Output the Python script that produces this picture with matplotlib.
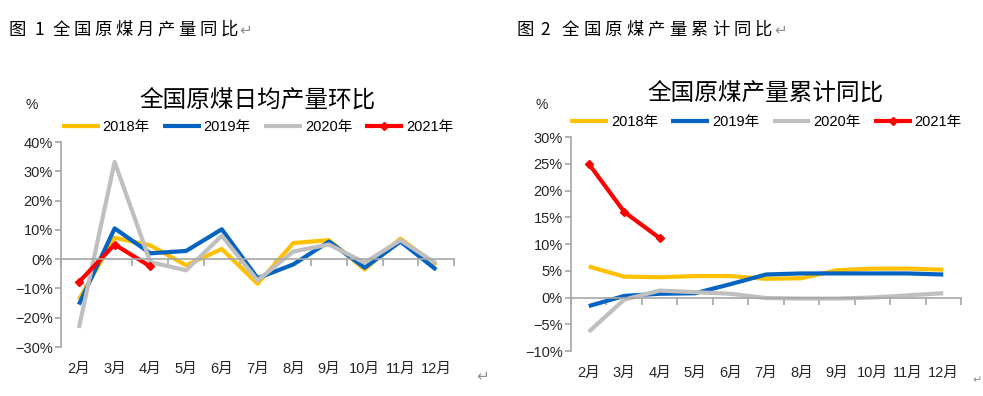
import matplotlib
matplotlib.use("Agg")
import matplotlib.pyplot as plt
from matplotlib.ticker import FuncFormatter, FixedLocator

plt.rcParams['font.family'] = ['Liberation Sans', 'Noto Sans CJK SC', 'DejaVu Sans']

months = ['2月', '3月', '4月', '5月', '6月', '7月', '8月', '9月', '10月', '11月', '12月']
years = ['2018年', '2019年', '2020年', '2021年']
colors = ['#FFC000', '#0563C1', '#BFBFBF', '#FF0000']

# 全国原煤日均产量环比 (%)
mom_2018 = [-13.8, 7.3, 4.7, -2.1, 3.5, -8.4, 5.5, 6.5, -3.5, 7.0, -2.0]
mom_2019 = [-15.5, 10.5, 2.0, 2.8, 10.2, -6.5, -1.8, 6.0, -2.9, 6.0, -3.6]
mom_2020 = [-23.5, 33.2, -1.0, -3.8, 8.0, -7.3, 2.6, 5.0, -1.2, 6.5, -1.5]
mom_2021 = [-7.8, 5.0, -2.5]

# 全国原煤产量累计同比 (%)
cum_2018 = [5.8, 3.9, 3.8, 4.0, 4.0, 3.5, 3.6, 5.1, 5.4, 5.4, 5.2]
cum_2019 = [-1.6, 0.3, 0.7, 0.8, 2.5, 4.3, 4.5, 4.5, 4.5, 4.5, 4.3]
cum_2020 = [-6.4, -0.4, 1.3, 1.0, 0.7, -0.1, -0.2, -0.2, 0.0, 0.4, 0.8]
cum_2021 = [25.0, 16.0, 11.1]

axis_gray = '#A6A6A6'
text_dark = '#262626'
W, H = 983, 396


def pct(v, pos):
    return f'{v:.0f}%'.replace('-', '−')


def draw(ax, series, title, ylim, ystep, title_y, legend_y, pct_y):
    x = list(range(len(months)))
    for i, s in enumerate(series):
        xs = x[:len(s)]
        if i == 3:
            ax.plot(xs, s, color=colors[i], lw=3, marker='D', ms=4,
                    label=years[i], solid_capstyle='butt')
        else:
            ax.plot(xs, s, color=colors[i], lw=3, label=years[i],
                    solid_capstyle='butt')
    ax.set_xlim(-0.5, len(months) - 0.5)
    ax.set_ylim(*ylim)
    ax.set_yticks(list(range(ylim[0], ylim[1] + 1, ystep)))
    ax.yaxis.set_major_formatter(FuncFormatter(pct))
    for s in ['top', 'right']:
        ax.spines[s].set_visible(False)
    ax.spines['left'].set_color(axis_gray)
    ax.spines['left'].set_linewidth(1.2)
    ax.spines['bottom'].set_position(('data', 0))
    ax.spines['bottom'].set_color(axis_gray)
    ax.spines['bottom'].set_linewidth(1.2)
    ax.tick_params(axis='y', colors=axis_gray, labelcolor=text_dark,
                   labelsize=10.5, length=4, width=1.2, pad=2)
    ax.xaxis.set_major_locator(FixedLocator([i + 0.5 for i in range(-1, len(months))]))
    ax.tick_params(axis='x', colors=axis_gray, length=5, width=1.2,
                   labelbottom=False)
    sec = ax.secondary_xaxis('bottom')
    sec.set_xticks(x, months)
    sec.spines['bottom'].set_visible(False)
    sec.tick_params(length=0, labelsize=10.5, labelcolor=text_dark, pad=11)
    ax.set_title(title, fontsize=17, y=title_y, color='#000000')
    ax.legend(loc='lower center', bbox_to_anchor=(0.5, legend_y), ncol=4,
              frameon=False, fontsize=10.5, handlelength=2.6, handletextpad=0.2,
              columnspacing=0.9, borderaxespad=0)
    ax.text(-0.09, pct_y, '%', transform=ax.transAxes, fontsize=10,
            color=text_dark, ha='left', va='center')


def caption(x0, y, first, num, rest, num_x, rest_x, pitch):
    fam = ['Noto Sans CJK SC', 'DejaVu Sans']
    fig.text(x0 / W, 1 - y / H, first, fontsize=12.5, family=fam, va='center')
    fig.text(num_x / W, 1 - y / H, num, fontsize=12.5, family=fam, va='center')
    for k, ch in enumerate(rest):
        fig.text((rest_x + k * pitch) / W, 1 - y / H, ch, fontsize=12.5,
                 family=fam, va='center')
    fig.text((rest_x + len(rest) * pitch - 2) / W, 1 - y / H, '↵', fontsize=11,
             color='#909090', family=['DejaVu Sans'], va='center')


fig = plt.figure(figsize=(9.83, 3.96), dpi=100)

ax1 = fig.add_axes([0.0621, 0.1237, 0.3998, 0.5177])
draw(ax1, [mom_2018, mom_2019, mom_2020, mom_2021], '全国原煤日均产量环比',
     (-30, 40), 10, 1.125, 1.01, 1.18)

ax2 = fig.add_axes([0.5809, 0.1136, 0.3967, 0.5404])
draw(ax2, [cum_2018, cum_2019, cum_2020, cum_2021], '全国原煤产量累计同比',
     (-10, 30), 5, 1.13, 1.01, 1.15)

caption(8, 30, '图', '1', '全国原煤月产量同比', 35, 53, 20.9)
caption(516, 30, '图', '2', '全国原煤产量累计同比', 540, 562, 21.4)

fig.text(476 / W, 1 - 376 / H, '↵', fontsize=11, color='#909090',
         family=['DejaVu Sans'], va='center', ha='left')
fig.text(972 / W, 1 - 380 / H, '↵', fontsize=8, color='#909090',
         family=['DejaVu Sans'], va='center', ha='left')

fig.savefig('out.png', dpi=100)
